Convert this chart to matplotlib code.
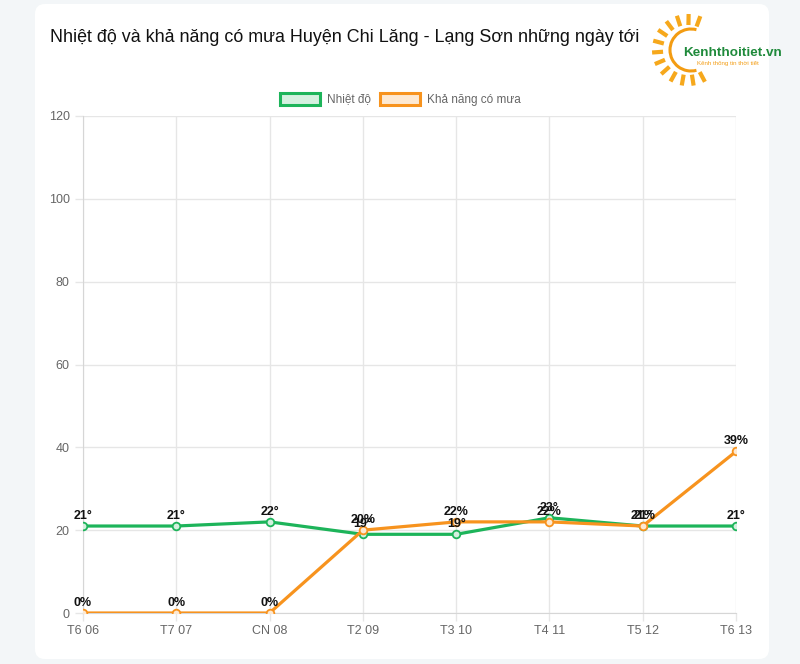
import matplotlib.pyplot as plt
import matplotlib.patches as patches
from matplotlib.patches import FancyBboxPatch
import numpy as np

days = ['T6 06', 'T7 07', 'CN 08', 'T2 09', 'T3 10', 'T4 11', 'T5 12', 'T6 13']
temp = [21, 21, 22, 19, 19, 23, 21, 21]
rain = [0, 0, 0, 20, 22, 22, 21, 39]
y_ticks = [0, 20, 40, 60, 80, 100, 120]

green = '#1db45a'
orange = '#f7931e'
grid_c = '#e6e6e6'
tick_c = '#666666'

plt.rcParams['font.family'] = ['Liberation Sans', 'DejaVu Sans']

fig = plt.figure(figsize=(8, 6.64), dpi=100)
fig.patch.set_facecolor('#f3f6f8')

# background layer in pixel coordinates
bg = fig.add_axes([0, 0, 1, 1])
bg.set_xlim(0, 800)
bg.set_ylim(664, 0)
bg.axis('off')
card = FancyBboxPatch((35, 4), 734, 655, boxstyle="round,pad=0,rounding_size=10",
                      facecolor='white', edgecolor='none')
bg.add_patch(card)

bg.text(50, 38, 'Nhiệt độ và khả năng có mưa Huyện Chi Lăng - Lạng Sơn những ngày tới',
        ha='left', va='center', fontsize=12.85, color='#111111')

# legend
bg.add_patch(patches.Rectangle((280, 93), 40, 12, facecolor='#d4f0df', edgecolor=green, lw=2.2))
bg.text(327, 99.5, 'Nhiệt độ', ha='left', va='center', fontsize=8.5, color=tick_c)
bg.add_patch(patches.Rectangle((380, 93), 40, 12, facecolor='#fde9d2', edgecolor=orange, lw=2.2))
bg.text(427, 99.5, 'Khả năng có mưa', ha='left', va='center', fontsize=8.5, color=tick_c)

# logo: sun rays + arc + text
cx, cy = 688, 50
for ang in np.arange(70, 300, 19):
    a = np.radians(ang)
    r1, r2 = 25, 36
    bg.plot([cx + r1 * np.cos(a), cx + r2 * np.cos(a)],
            [cy - r1 * np.sin(a), cy - r2 * np.sin(a)],
            color='#f6a81c', lw=3, solid_capstyle='butt')
arc = patches.Arc((cx + 3, cy), 42, 42, theta1=75, theta2=285, color='#f39c12', lw=2.2)
bg.add_patch(arc)
bg.text(683, 53, 'Kenhthoitiet.vn', ha='left', va='center', fontsize=9.7,
        fontweight='bold', color='#1f8a3b')
bg.text(697, 63, 'Kênh thông tin thời tiết', ha='left', va='center', fontsize=4.4,
        color='#f39c12')

# chart
ax = fig.add_axes([83 / 800, 51 / 664, 653 / 800, 497 / 664])
ax.set_facecolor('none')
x = np.arange(len(days))
ax.plot(x, temp, color=green, lw=2.3, marker='o', ms=5.5, mfc='#d4f0df', mec=green, mew=1.3, zorder=3)
ax.plot(x, rain, color=orange, lw=2.3, marker='o', ms=5.5, mfc='#fde9d2', mec=orange, mew=1.3, zorder=3)

for xi, t in zip(x, temp):
    ax.annotate(f'{t}°', (xi, t), xytext=(0, 3), textcoords='offset points',
                ha='center', va='bottom', fontsize=9, fontweight='bold', color='#111111', zorder=5)
for xi, r in zip(x, rain):
    ax.annotate(f'{r}%', (xi, r), xytext=(0, 3), textcoords='offset points',
                ha='center', va='bottom', fontsize=9, fontweight='bold', color='#111111', zorder=5)

ax.set_xlim(0, len(days) - 1)
ax.set_ylim(0, 120)
ax.set_xticks(x)
ax.set_xticklabels(days)
ax.set_yticks(y_ticks)
ax.grid(True, color=grid_c, lw=1)
ax.tick_params(axis='both', colors=grid_c, labelcolor=tick_c, labelsize=9, length=6, width=1)
ax.tick_params(axis='x', pad=3)
for s in ['top', 'right']:
    ax.spines[s].set_visible(False)
for s in ['left', 'bottom']:
    ax.spines[s].set_color('#d6d6d6')
ax.set_axisbelow(True)

plt.savefig('out.png', dpi=100, facecolor=fig.get_facecolor())
